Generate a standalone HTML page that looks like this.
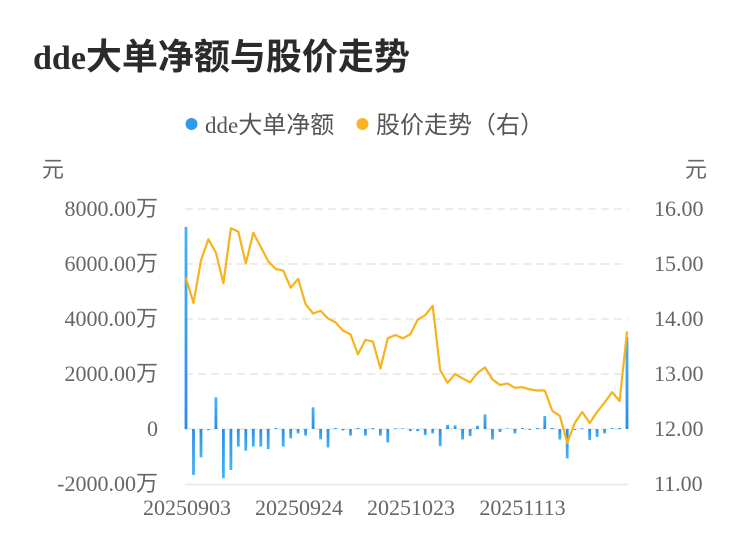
<!DOCTYPE html>
<html><head><meta charset="utf-8"><style>
html,body{margin:0;padding:0;background:#fff;}
svg{display:block;}
</style></head><body>
<svg width="750" height="558" viewBox="0 0 750 558" xmlns="http://www.w3.org/2000/svg">
<defs>
<linearGradient id="gp" x1="0" y1="0" x2="0" y2="1"><stop offset="0" stop-color="#43b3f7"/><stop offset="1" stop-color="#2a8ce8"/></linearGradient>
<linearGradient id="gn" x1="0" y1="0" x2="0" y2="1"><stop offset="0" stop-color="#2a8ce8"/><stop offset="1" stop-color="#43b3f7"/></linearGradient>
</defs>
<rect width="750" height="558" fill="#fff"/>
<!-- title -->
<text x="33" y="69" fill="#2b2b2b" font-weight="bold"><tspan font-family="Liberation Serif, serif" font-size="34">dde</tspan><tspan font-family="Noto Sans CJK SC, sans-serif" font-size="36">大单净额与股价走势</tspan></text>
<!-- legend -->
<circle cx="191.5" cy="124" r="6" fill="#2b9bf0"/>
<text x="205" y="133" fill="#555"><tspan font-family="Liberation Serif, serif" font-size="23">dde</tspan><tspan font-family="Noto Sans CJK SC, sans-serif" font-size="24">大单净额</tspan></text>
<circle cx="362.5" cy="124" r="6" fill="#fbb41f"/>
<text x="376" y="133" fill="#555" font-family="Noto Sans CJK SC, sans-serif" font-size="24">股价走势（右）</text>
<!-- units -->
<text x="42" y="177" fill="#666" font-family="Noto Sans CJK SC, sans-serif" font-size="22">元</text>
<text x="685" y="177" fill="#666" font-family="Noto Sans CJK SC, sans-serif" font-size="22">元</text>
<!-- grid -->
<g stroke="#e6e6e6" stroke-width="1.5" stroke-dasharray="8 5">
<line x1="185" y1="209" x2="628" y2="209"/>
<line x1="185" y1="264" x2="628" y2="264"/>
<line x1="185" y1="319" x2="628" y2="319"/>
<line x1="185" y1="374" x2="628" y2="374"/>
<line x1="185" y1="429" x2="628" y2="429"/>
</g>
<line x1="185" y1="484.5" x2="628" y2="484.5" stroke="#ececec" stroke-width="2"/>
<!-- left axis labels -->
<g fill="#666" text-anchor="end">
<text x="158" y="216"><tspan font-family="Liberation Serif, serif" font-size="22">8000.00</tspan><tspan font-family="Noto Sans CJK SC, sans-serif" font-size="22">万</tspan></text>
<text x="158" y="271"><tspan font-family="Liberation Serif, serif" font-size="22">6000.00</tspan><tspan font-family="Noto Sans CJK SC, sans-serif" font-size="22">万</tspan></text>
<text x="158" y="326"><tspan font-family="Liberation Serif, serif" font-size="22">4000.00</tspan><tspan font-family="Noto Sans CJK SC, sans-serif" font-size="22">万</tspan></text>
<text x="158" y="381"><tspan font-family="Liberation Serif, serif" font-size="22">2000.00</tspan><tspan font-family="Noto Sans CJK SC, sans-serif" font-size="22">万</tspan></text>
<text x="158" y="436" font-family="Liberation Serif, serif" font-size="22">0</text>
<text x="158" y="491"><tspan font-family="Liberation Serif, serif" font-size="22">-2000.00</tspan><tspan font-family="Noto Sans CJK SC, sans-serif" font-size="22">万</tspan></text>
</g>
<!-- right axis labels -->
<g fill="#666" font-family="Liberation Serif, serif" font-size="22">
<text x="654" y="216">16.00</text>
<text x="654" y="271">15.00</text>
<text x="654" y="326">14.00</text>
<text x="654" y="381">13.00</text>
<text x="654" y="436">12.00</text>
<text x="654" y="491">11.00</text>
</g>
<!-- x labels -->
<g fill="#666" font-family="Liberation Serif, serif" font-size="22" text-anchor="middle">
<text x="187" y="515">20250903</text>
<text x="299" y="515">20250924</text>
<text x="411" y="515">20251023</text>
<text x="522.5" y="515">20251113</text>
</g>
<!-- bars -->
<g>
<rect x="184.6" y="227" width="2.8" height="202" fill="url(#gp)"/>
<rect x="192.1" y="429" width="2.8" height="45.9" fill="url(#gn)"/>
<rect x="199.6" y="429" width="2.8" height="28.3" fill="url(#gn)"/>
<rect x="207.0" y="429" width="2.8" height="1.2" fill="url(#gn)"/>
<rect x="214.5" y="397.4" width="2.8" height="31.6" fill="url(#gp)"/>
<rect x="222.0" y="429" width="2.8" height="49.2" fill="url(#gn)"/>
<rect x="229.5" y="429" width="2.8" height="41" fill="url(#gn)"/>
<rect x="236.9" y="429" width="2.8" height="17.6" fill="url(#gn)"/>
<rect x="244.4" y="429" width="2.8" height="21.7" fill="url(#gn)"/>
<rect x="251.9" y="429" width="2.8" height="17.6" fill="url(#gn)"/>
<rect x="259.4" y="429" width="2.8" height="17.6" fill="url(#gn)"/>
<rect x="266.8" y="429" width="2.8" height="20.1" fill="url(#gn)"/>
<rect x="274.3" y="428" width="2.8" height="1" fill="url(#gp)"/>
<rect x="281.8" y="429" width="2.8" height="17.6" fill="url(#gn)"/>
<rect x="289.3" y="429" width="2.8" height="9.4" fill="url(#gn)"/>
<rect x="296.7" y="429" width="2.8" height="4.4" fill="url(#gn)"/>
<rect x="304.2" y="429" width="2.8" height="6.6" fill="url(#gn)"/>
<rect x="311.7" y="407.3" width="2.8" height="21.7" fill="url(#gp)"/>
<rect x="319.2" y="429" width="2.8" height="10.3" fill="url(#gn)"/>
<rect x="326.6" y="429" width="2.8" height="18.4" fill="url(#gn)"/>
<rect x="334.1" y="428" width="2.8" height="1" fill="url(#gp)"/>
<rect x="341.6" y="429" width="2.8" height="1.5" fill="url(#gn)"/>
<rect x="349.1" y="429" width="2.8" height="6.6" fill="url(#gn)"/>
<rect x="356.5" y="428" width="2.8" height="1" fill="url(#gp)"/>
<rect x="364.0" y="429" width="2.8" height="6.6" fill="url(#gn)"/>
<rect x="371.5" y="428" width="2.8" height="1" fill="url(#gp)"/>
<rect x="379.0" y="429" width="2.8" height="6.6" fill="url(#gn)"/>
<rect x="386.4" y="429" width="2.8" height="13.5" fill="url(#gn)"/>
<rect x="393.9" y="428.3" width="2.8" height="0.7" fill="url(#gp)"/>
<rect x="401.4" y="428.3" width="2.8" height="0.7" fill="url(#gp)"/>
<rect x="408.9" y="429" width="2.8" height="2.2" fill="url(#gn)"/>
<rect x="416.3" y="429" width="2.8" height="2.2" fill="url(#gn)"/>
<rect x="423.8" y="429" width="2.8" height="6.1" fill="url(#gn)"/>
<rect x="431.3" y="429" width="2.8" height="4.4" fill="url(#gn)"/>
<rect x="438.8" y="429" width="2.8" height="17.1" fill="url(#gn)"/>
<rect x="446.2" y="424.9" width="2.8" height="4.1" fill="url(#gp)"/>
<rect x="453.7" y="425.4" width="2.8" height="3.6" fill="url(#gp)"/>
<rect x="461.2" y="429" width="2.8" height="10.5" fill="url(#gn)"/>
<rect x="468.7" y="429" width="2.8" height="7.2" fill="url(#gn)"/>
<rect x="476.1" y="425.7" width="2.8" height="3.3" fill="url(#gp)"/>
<rect x="483.6" y="414.4" width="2.8" height="14.6" fill="url(#gp)"/>
<rect x="491.1" y="429" width="2.8" height="10.5" fill="url(#gn)"/>
<rect x="498.6" y="429" width="2.8" height="3" fill="url(#gn)"/>
<rect x="506.0" y="428.3" width="2.8" height="0.7" fill="url(#gp)"/>
<rect x="513.5" y="429" width="2.8" height="4.4" fill="url(#gn)"/>
<rect x="521.0" y="428" width="2.8" height="1" fill="url(#gp)"/>
<rect x="528.5" y="429" width="2.8" height="1" fill="url(#gn)"/>
<rect x="535.9" y="428" width="2.8" height="1" fill="url(#gp)"/>
<rect x="543.4" y="416.1" width="2.8" height="12.9" fill="url(#gp)"/>
<rect x="550.9" y="428" width="2.8" height="1" fill="url(#gp)"/>
<rect x="558.4" y="429" width="2.8" height="10.5" fill="url(#gn)"/>
<rect x="565.8" y="429" width="2.8" height="29.4" fill="url(#gn)"/>
<rect x="573.3" y="429" width="2.8" height="1" fill="url(#gn)"/>
<rect x="580.8" y="428.3" width="2.8" height="0.7" fill="url(#gp)"/>
<rect x="588.3" y="429" width="2.8" height="11" fill="url(#gn)"/>
<rect x="595.7" y="429" width="2.8" height="8" fill="url(#gn)"/>
<rect x="603.2" y="429" width="2.8" height="4.4" fill="url(#gn)"/>
<rect x="610.7" y="428" width="2.8" height="1" fill="url(#gp)"/>
<rect x="618.2" y="428" width="2.8" height="1" fill="url(#gp)"/>
<rect x="625.6" y="337.1" width="2.8" height="91.9" fill="url(#gp)"/>
</g>
<!-- price line -->
<polyline fill="none" stroke="#f7b21e" stroke-width="2.2" stroke-linejoin="round" stroke-linecap="round" points="186.0,278.3 193.5,303.0 201.0,260.2 208.4,239.3 215.9,252.5 223.4,283.3 230.9,228.3 238.3,231.6 245.8,263.5 253.3,232.7 260.8,247.0 268.2,261.3 275.7,269.0 283.2,270.6 290.7,287.7 298.1,278.9 305.6,304.2 313.1,313.5 320.6,310.8 328.0,318.5 335.5,322.3 343.0,330.6 350.5,334.4 357.9,354.2 365.4,339.9 372.9,341.6 380.4,368.5 387.8,338.3 395.3,335.0 402.8,338.3 410.3,334.4 417.7,319.6 425.2,315.2 432.7,305.8 440.2,370.2 447.6,382.8 455.1,374.0 462.6,378.4 470.1,382.3 477.5,372.9 485.0,367.4 492.5,379.5 500.0,385.0 507.4,383.4 514.9,387.8 522.4,387.2 529.9,389.4 537.3,390.5 544.8,390.5 552.3,410.9 559.8,415.8 567.2,442.8 574.7,423.0 582.2,412.0 589.7,423.0 597.1,412.0 604.6,402.6 612.1,392.2 619.6,401.0 627.0,332.2"/>
</svg>
</body></html>
